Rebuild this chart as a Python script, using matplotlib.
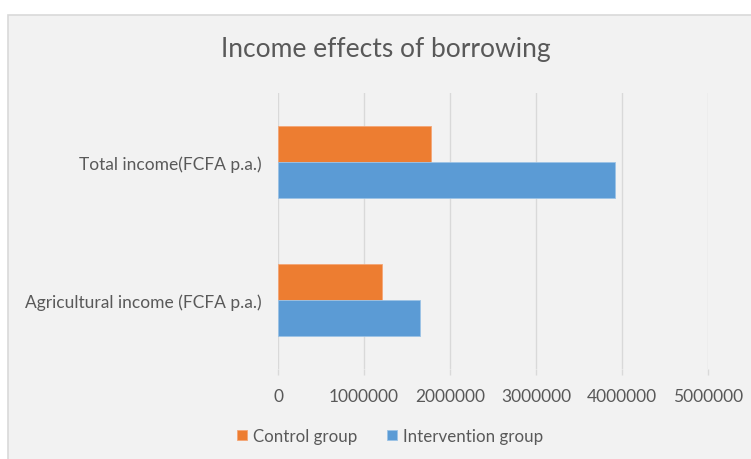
import numpy as np
import matplotlib.pyplot as plt
from matplotlib.patches import Rectangle

plt.rcParams['font.family'] = ['Lato', 'DejaVu Sans']

categories = ['Agricultural income (FCFA p.a.)', 'Total income(FCFA p.a.)']
control = [1210000, 1780000]
intervention = [1650000, 3920000]
x_ticks = [0, 1000000, 2000000, 3000000, 4000000, 5000000]

orange = '#ED7D31'
blue = '#5B9BD5'
grid_c = '#d9d9d9'
text_c = '#595959'

fig = plt.figure(figsize=(7.51, 4.60), dpi=100)
fig.patch.set_facecolor('white')

# chart area panel with light border
fig.patches.append(Rectangle((8 / 751, -0.01), 1.0, (460 - 16) / 460 + 0.01,
                             transform=fig.transFigure, facecolor='#f2f2f2',
                             edgecolor=grid_c, linewidth=1.2, zorder=-10))

ax = fig.add_axes([278 / 751, 90 / 460, 430 / 751, 276 / 460])
ax.set_facecolor('none')
ax.set_zorder(1)

y = np.arange(len(categories))
h = 0.26
ax.barh(y + h / 2, control, height=h, color=orange, edgecolor='#f4a676',
        linewidth=0.6, label='Control group', zorder=3)
ax.barh(y - h / 2, intervention, height=h, color=blue, edgecolor='#9cc3e6',
        linewidth=0.6, label='Intervention group', zorder=3)

ax.set_xlim(0, 5000000)
ax.set_ylim(-0.5, 1.5)
ax.set_xticks(x_ticks)
ax.set_xticklabels([str(t) for t in x_ticks])
ax.set_yticks(y)
ax.set_yticklabels(categories)
ax.xaxis.grid(True, color=grid_c, linewidth=1.0, zorder=0)
ax.set_axisbelow(True)
for s in ax.spines.values():
    s.set_visible(False)
ax.tick_params(axis='x', length=4, color=grid_c, width=1.0, colors=text_c,
               labelsize=12.5, pad=10)
ax.tick_params(axis='y', length=0, colors=text_c, labelsize=12.5, pad=12)

fig.text(386 / 751, 1 - 50 / 460, 'Income effects of borrowing', ha='center',
         va='center', fontsize=19, color=text_c)

fig.legend(loc='center', bbox_to_anchor=(390 / 751, 1 - 437 / 460), ncol=2,
           frameon=False, fontsize=12.2, handlelength=0.6, handleheight=0.6,
           handletextpad=0.3, columnspacing=1.8, labelcolor=text_c)

fig.savefig('out.png', dpi=100, facecolor=fig.get_facecolor())
